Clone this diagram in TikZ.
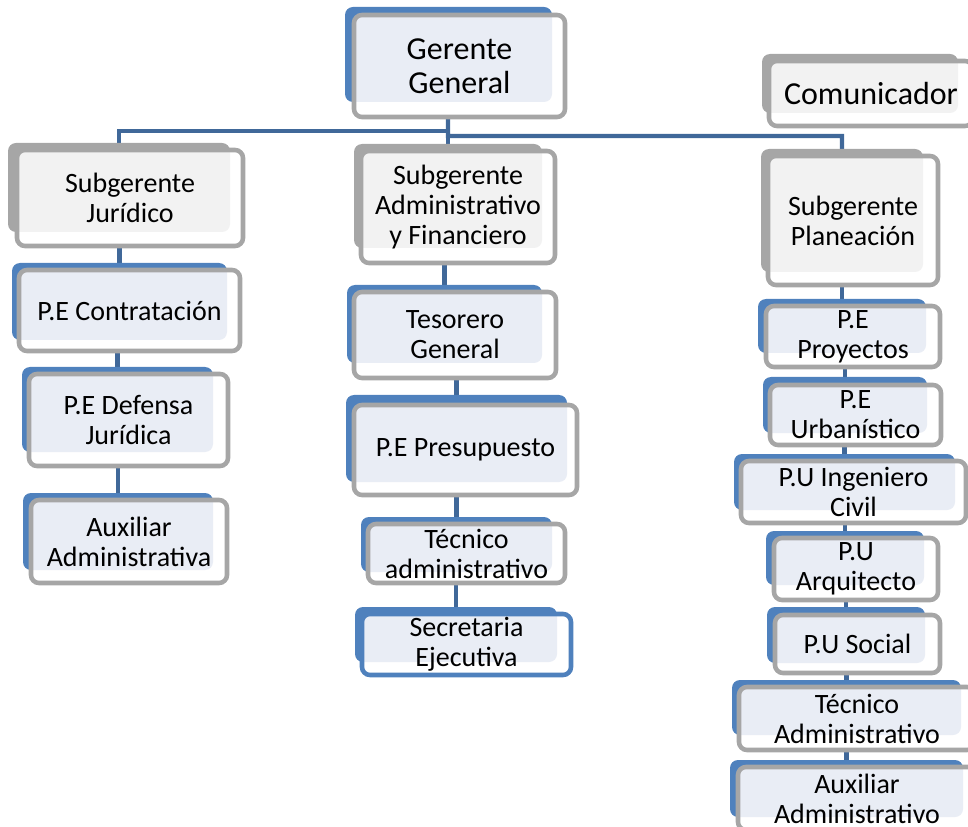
\documentclass[tikz,border=0pt]{standalone}
\usepackage{fontspec}
\setmainfont{Carlito}
\usetikzlibrary{fit,backgrounds}

\definecolor{azul}{RGB}{79,129,189}
\definecolor{azulclaro}{RGB}{233,237,245}
\definecolor{gris}{RGB}{166,166,166}
\definecolor{grisclaro}{RGB}{242,242,242}
\definecolor{linea}{RGB}{64,104,153}

\tikzset{
  texto/.style={align=center, font=\fontsize{21}{22.5}\selectfont},
  grande/.style={font=\fontsize{24}{25.5}\selectfont},
  borde/.style={line width=3.4pt, rounded corners=6pt},
  conector/.style={draw=linea, line width=3.2pt},
}

% caja : fondo de color, marco desplazado y texto centrado en el marco
\newcommand{\caja}[9][]{
  \fill[#7, rounded corners=6pt] #3 rectangle #4;
  \fill[white, rounded corners=6pt] #5 rectangle #6;
  \begin{scope}
    \clip[rounded corners=6pt] #5 rectangle #6;
    \fill[#7claro, rounded corners=6pt] #3 rectangle #4;
  \end{scope}
  \draw[borde, draw=#8] #5 rectangle #6;
  \node[fit={#3 #4}, inner sep=0pt] (#2) {};
  \path #5 -- #6 node[midway, texto, #1] {#9};
}

\begin{document}
\begin{tikzpicture}[x=0.75pt, y=-0.75pt]
        \useasboundingbox (0,0) rectangle (968,827);
        \clip (0,0) rectangle (968,827);

        % gerencia
        \caja[grande]{gg}{(345,7)}{(552,102)}{(354,15)}{(565,117)}{azul}{gris}{Gerente\\General}
        \caja[grande]{com}{(762,54)}{(958,113)}{(769,61)}{(973,126)}{gris}{gris}{Comunicador}

        % rama juridica
        \caja{sj}{(8,143)}{(230,232)}{(17,150)}{(243,246)}{gris}{gris}{Subgerente\\Jurídico}
        \caja{pc}{(12,263)}{(227,340)}{(19,270)}{(240,351)}{azul}{gris}{P.E Contratación}
        \caja{pd}{(22,367)}{(213,452)}{(29,374)}{(228,466)}{azul}{gris}{P.E Defensa\\Jurídica}
        \caja{aux}{(23,493)}{(213,570)}{(31,500)}{(227,583)}{azul}{gris}{Auxiliar\\Administrativa}

        % rama administrativa y financiera
        \caja{sa}{(354,144)}{(542,248)}{(361,151)}{(555,263)}{gris}{gris}{Subgerente\\Administrativo\\y Financiero}
        \caja{tg}{(347,285)}{(542,363)}{(354,292)}{(556,378)}{azul}{gris}{Tesorero\\General}
        \caja{pp}{(346,395)}{(567,482)}{(354,405)}{(577,495)}{azul}{gris}{P.E Presupuesto}
        \caja{tad}{(361,517)}{(552,572)}{(368,524)}{(565,583)}{azul}{gris}{Técnico\\administrativo}
        \caja{sec}{(355,607)}{(557,662)}{(362,614)}{(571,675)}{azul}{azul}{Secretaria\\Ejecutiva}

        % rama planeacion
        \caja{spl}{(761,149)}{(923,272)}{(768,156)}{(938,285)}{gris}{gris}{Subgerente\\Planeación}
        \caja{pe}{(758,299)}{(926,353)}{(766,306)}{(940,367)}{azul}{gris}{P.E\\Proyectos}
        \caja{pu}{(763,377)}{(927,433)}{(770,385)}{(941,445)}{azul}{gris}{P.E\\Urbanístico}
        \caja{ic}{(734,454)}{(955,510)}{(741,461)}{(966,523)}{azul}{gris}{P.U Ingeniero\\Civil}
        \caja{ar}{(766,531)}{(924,585)}{(774,538)}{(938,600)}{azul}{gris}{P.U\\Arquitecto}
        \caja{so}{(767,607)}{(925,663)}{(775,615)}{(940,673)}{azul}{gris}{P.U Social}
        \caja{tA}{(732,680)}{(961,735)}{(739,687)}{(975,750)}{azul}{gris}{Técnico\\Administrativo}
        \caja{aA}{(730,760)}{(963,817)}{(738,767)}{(976,830)}{azul}{gris}{Auxiliar\\Administrativo}

        % lineas de mando (detras de las cajas)
        \coordinate (ramaI) at (448,131);
        \coordinate (ramaD) at (448,136);
        \begin{scope}[on background layer]
        \draw[conector] (gg.center) -- (ramaD) -| (spl.center);
        \draw[conector] (ramaI) -| (sj.center);
        \draw[conector] (gg.south) -| (sa.center);
        \foreach \a/\b in {sj/pc, pc/pd, pd/aux, sa/tg, tg/pp, pp/tad, tad/sec,
                           spl/pe, pe/pu, pu/ic, ic/ar, ar/so, so/tA, tA/aA}
          \draw[conector] (\a.south) -| (\b.center);
        \end{scope}
    \end{tikzpicture}
\end{document}
